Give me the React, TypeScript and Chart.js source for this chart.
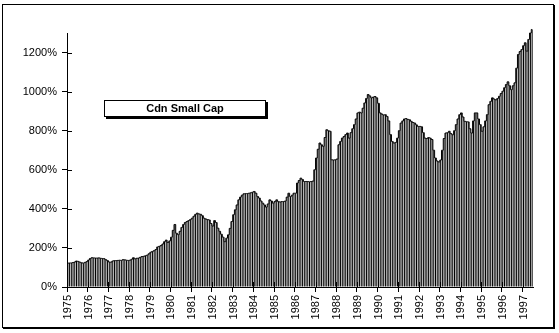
import React, { useEffect, useRef } from 'react';
import { Chart, registerables } from 'chart.js';
Chart.register(...registerables);

const years = [1975, 1976, 1977, 1978, 1979, 1980, 1981, 1982, 1983, 1984, 1985, 1986, 1987, 1988, 1989, 1990, 1991, 1992, 1993, 1994, 1995, 1996, 1997];

const v1975 = [122, 123, 123, 125, 128, 133, 131, 127, 124, 122, 126, 130];
const v1976 = [138, 146, 150, 149, 148, 148, 149, 147, 146, 145, 140, 135];
const v1977 = [128, 127, 133, 135, 135, 136, 137, 136, 140, 139, 137, 136];
const v1978 = [137, 142, 150, 144, 147, 148, 152, 156, 157, 160, 163, 170];
const v1979 = [178, 182, 186, 192, 205, 208, 212, 220, 232, 240, 228, 236];
const v1980 = [255, 290, 320, 275, 268, 285, 305, 320, 330, 335, 340, 345];
const v1981 = [352, 362, 372, 378, 374, 372, 365, 352, 348, 345, 343, 325];
const v1982 = [312, 340, 330, 301, 285, 270, 255, 232, 250, 267, 300, 335];
const v1983 = [370, 395, 420, 446, 460, 470, 477, 478, 478, 480, 482, 485];
const v1984 = [489, 480, 463, 455, 440, 429, 420, 409, 425, 446, 440, 429];
const v1985 = [438, 446, 437, 435, 437, 437, 440, 460, 480, 463, 470, 480];
const v1986 = [480, 532, 545, 557, 550, 540, 540, 540, 538, 540, 542, 600];
const v1987 = [660, 705, 737, 728, 720, 765, 805, 800, 797, 651, 650, 651];
const v1988 = [655, 728, 745, 762, 770, 780, 788, 762, 790, 810, 831, 860];
const v1989 = [891, 895, 891, 915, 942, 965, 985, 978, 968, 972, 975, 968];
const v1990 = [940, 891, 885, 880, 882, 873, 850, 780, 745, 737, 740, 762];
const v1991 = [800, 839, 850, 860, 862, 858, 856, 848, 842, 839, 830, 822];
const v1992 = [822, 820, 790, 762, 760, 765, 762, 755, 700, 660, 645, 640];
const v1993 = [650, 700, 760, 788, 790, 797, 785, 779, 800, 831, 860, 882];
const v1994 = [891, 870, 848, 846, 845, 810, 788, 850, 891, 891, 860, 831];
const v1995 = [797, 820, 850, 882, 933, 950, 968, 962, 958, 965, 976, 990];
const v1996 = [1002, 1020, 1036, 1050, 1030, 1010, 1030, 1045, 1120, 1190, 1205, 1215];
const v1997 = [1235, 1250, 1207, 1267, 1300, 1318];

const yearValues = [v1975, v1976, v1977, v1978, v1979, v1980, v1981, v1982, v1983, v1984, v1985, v1986, v1987, v1988, v1989, v1990, v1991, v1992, v1993, v1994, v1995, v1996, v1997];

const yTicks = [0, 200, 400, 600, 800, 1000, 1200];
const seriesName = 'Cdn Small Cap';

const labels: string[] = [];
const values: number[] = [];
yearValues.forEach((arr, yi) => {
  arr.forEach((v, m) => {
    labels.push(m === 0 ? String(years[yi]) : '');
    values.push(v);
  });
});

const FONT = { family: '"Liberation Sans", Arial, sans-serif', size: 11 };

const decor = {
  id: 'decor',
  afterDraw(chart: any) {
    const ctx = chart.ctx;
    const { left, bottom } = chart.chartArea;
    const xs = chart.scales.x;
    const ys = chart.scales.y;
    ctx.save();
    ctx.strokeStyle = '#000';
    ctx.fillStyle = '#000';
    ctx.lineWidth = 1;
    ctx.beginPath();
    yTicks.forEach((t) => {
      const y = Math.round(ys.getPixelForValue(t)) + 0.5;
      ctx.moveTo(left, y);
      ctx.lineTo(left + 5, y);
    });
    const half = (xs.getPixelForValue(1) - xs.getPixelForValue(0)) / 2;
    labels.forEach((l, i) => {
      if (l) {
        const x = Math.round(xs.getPixelForValue(i) - half) + 0.5;
        ctx.moveTo(x, bottom);
        ctx.lineTo(x, bottom - 5);
      }
    });
    ctx.stroke();
    ctx.strokeRect(2.5, 4.5, 551, 323);
    ctx.fillRect(554, 5, 1, 324);
    ctx.fillRect(3, 328, 552, 1);
    ctx.fillRect(106, 102, 162, 17);
    ctx.fillStyle = '#fff';
    ctx.fillRect(104, 100, 162, 17);
    ctx.strokeRect(104.5, 100.5, 161, 16);
    ctx.fillStyle = '#000';
    ctx.font = 'bold 11px "Liberation Sans", Arial, sans-serif';
    ctx.textAlign = 'center';
    ctx.textBaseline = 'middle';
    ctx.fillText(seriesName, 185, 109);
    ctx.restore();
  },
};

export default function App() {
  const ref = useRef<HTMLCanvasElement>(null);
  useEffect(() => {
    document.body.style.margin = '0';
    const chart = new Chart(ref.current!, {
      type: 'bar',
      data: {
        labels,
        datasets: [
          {
            type: 'line' as any,
            label: seriesName + ' outline',
            data: values,
            borderColor: '#000',
            borderWidth: 1,
            pointRadius: 0,
            stepped: 'middle' as any,
            clip: false as any,
            order: 0,
          } as any,
          {
            label: seriesName,
            data: values,
            backgroundColor: '#000',
            borderWidth: 0,
            barPercentage: 0.6,
            categoryPercentage: 1,
            clip: false as any,
            order: 1,
          },
        ],
      },
      options: {
        animation: false,
        responsive: false,
        devicePixelRatio: 1,
        layout: { padding: { left: 0, right: 26, top: 33, bottom: 0 } },
        plugins: { legend: { display: false }, tooltip: { enabled: false } },
        scales: {
          x: {
            offset: true,
            afterFit: (s: any) => { s.height = 46; },
            grid: {
              offset: true,
              drawOnChartArea: false,
              tickLength: 5,
              color: (c: any) => (labels[c.index] ? '#000' : 'rgba(0,0,0,0)'),
            },
            border: { color: '#000' },
            ticks: {
              autoSkip: false,
              maxRotation: 90,
              minRotation: 90,
              padding: 3,
              color: '#000',
              font: FONT,
              callback: (_v: any, i: number) => labels[i],
            },
          },
          y: {
            min: 0,
            max: 1300,
            afterFit: (s: any) => { s.width = 67; },
            afterBuildTicks: (s: any) => {
              s.ticks = yTicks.map((v) => ({ value: v }));
            },
            grid: { drawOnChartArea: false, tickLength: 5, color: '#000' },
            border: { color: '#000' },
            ticks: {
              padding: 5,
              color: '#000',
              font: FONT,
              callback: (v: any) => v + '%',
            },
          },
        },
      },
      plugins: [decor],
    });
    return () => chart.destroy();
  }, []);
  return (
    <div style={{ width: 559, height: 333, position: 'relative', background: '#fff' }}>
      <canvas ref={ref} width={559} height={333} style={{ display: 'block' }} />
    </div>
  );
}
